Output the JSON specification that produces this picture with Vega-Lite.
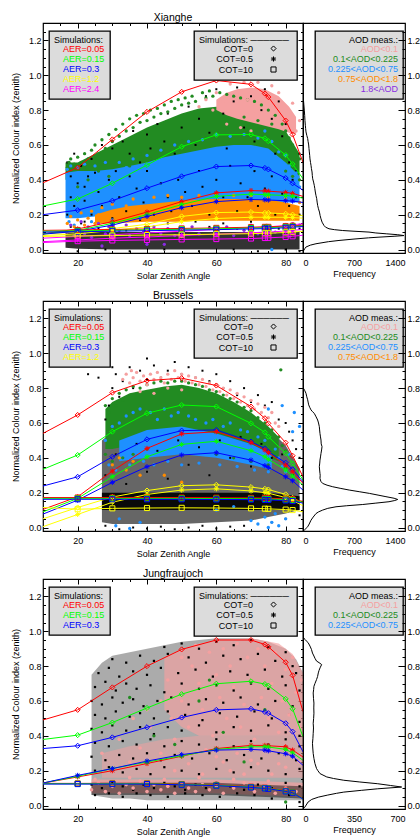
{
"$schema":"https://vega.github.io/schema/vega-lite/v6.json",
"background":"white",
"padding":{"left":10,"top":12,"right":0,"bottom":0},
"config":{
 "font":"Liberation Sans",
 "view":{"stroke":"black","strokeWidth":1.2},
 "axis":{"labelFont":"Liberation Sans","labelFontSize":9,"labelColor":"black","titleFont":"Liberation Sans","titleFontSize":9,"titleFontWeight":"normal","titleColor":"black","tickColor":"black","tickWidth":1,"domain":false,"grid":false,"labelOverlap":false,"zindex":1},
 "title":{"font":"Liberation Sans","fontSize":10.5,"fontWeight":"normal","color":"black","offset":-1,"anchor":"middle"},
 "legend":{"labelFont":"Liberation Sans","labelFontSize":9,"titleFont":"Liberation Sans","titleFontSize":9,"titleFontWeight":"normal","titleColor":"black","labelColor":"black","fillColor":"#dcdcdc","strokeColor":"black","strokeWidth":1.3,"cornerRadius":0,"padding":5,"rowPadding":-0.5,"titlePadding":-1,"labelLimit":200,"titleLimit":300}
},
"datasets":{
"s1":[
{"a":0.05,"c":0,"x":10,"y":0.383},{"a":0.05,"c":0,"x":20,"y":0.47},{"a":0.05,"c":0,"x":30,"y":0.632},{"a":0.05,"c":0,"x":40,"y":0.79},{"a":0.05,"c":0,"x":50,"y":0.905},{"a":0.05,"c":0,"x":60,"y":0.97},{"a":0.05,"c":0,"x":70,"y":0.948},{"a":0.05,"c":0,"x":74,"y":0.895},{"a":0.05,"c":0,"x":75,"y":0.875},{"a":0.05,"c":0,"x":80,"y":0.74},{"a":0.05,"c":0,"x":82,"y":0.66},{"a":0.05,"c":0,"x":85,"y":0.5},
{"a":0.15,"c":0,"x":10,"y":0.25},{"a":0.15,"c":0,"x":20,"y":0.29},{"a":0.15,"c":0,"x":30,"y":0.38},{"a":0.15,"c":0,"x":40,"y":0.485},{"a":0.15,"c":0,"x":50,"y":0.59},{"a":0.15,"c":0,"x":60,"y":0.658},{"a":0.15,"c":0,"x":70,"y":0.66},{"a":0.15,"c":0,"x":74,"y":0.638},{"a":0.15,"c":0,"x":75,"y":0.622},{"a":0.15,"c":0,"x":80,"y":0.542},{"a":0.15,"c":0,"x":82,"y":0.49},{"a":0.15,"c":0,"x":85,"y":0.406},
{"a":0.3,"c":0,"x":10,"y":0.2},{"a":0.3,"c":0,"x":20,"y":0.226},{"a":0.3,"c":0,"x":30,"y":0.28},{"a":0.3,"c":0,"x":40,"y":0.352},{"a":0.3,"c":0,"x":50,"y":0.42},{"a":0.3,"c":0,"x":60,"y":0.476},{"a":0.3,"c":0,"x":70,"y":0.482},{"a":0.3,"c":0,"x":74,"y":0.468},{"a":0.3,"c":0,"x":75,"y":0.46},{"a":0.3,"c":0,"x":80,"y":0.41},{"a":0.3,"c":0,"x":82,"y":0.38},{"a":0.3,"c":0,"x":85,"y":0.34},
{"a":1.2,"c":0,"x":10,"y":0.09},{"a":1.2,"c":0,"x":20,"y":0.1},{"a":1.2,"c":0,"x":30,"y":0.12},{"a":1.2,"c":0,"x":40,"y":0.145},{"a":1.2,"c":0,"x":50,"y":0.19},{"a":1.2,"c":0,"x":60,"y":0.212},{"a":1.2,"c":0,"x":70,"y":0.215},{"a":1.2,"c":0,"x":74,"y":0.21},{"a":1.2,"c":0,"x":75,"y":0.21},{"a":1.2,"c":0,"x":80,"y":0.205},{"a":1.2,"c":0,"x":82,"y":0.2},{"a":1.2,"c":0,"x":85,"y":0.195},
{"a":2.4,"c":0,"x":10,"y":0.065},{"a":2.4,"c":0,"x":20,"y":0.075},{"a":2.4,"c":0,"x":30,"y":0.085},{"a":2.4,"c":0,"x":40,"y":0.095},{"a":2.4,"c":0,"x":50,"y":0.105},{"a":2.4,"c":0,"x":60,"y":0.115},{"a":2.4,"c":0,"x":70,"y":0.125},{"a":2.4,"c":0,"x":74,"y":0.13},{"a":2.4,"c":0,"x":75,"y":0.13},{"a":2.4,"c":0,"x":80,"y":0.138},{"a":2.4,"c":0,"x":82,"y":0.142},{"a":2.4,"c":0,"x":85,"y":0.148},
{"a":0.05,"c":0.5,"x":10,"y":0.09},{"a":0.05,"c":0.5,"x":20,"y":0.118},{"a":0.05,"c":0.5,"x":30,"y":0.16},{"a":0.05,"c":0.5,"x":40,"y":0.215},{"a":0.05,"c":0.5,"x":50,"y":0.275},{"a":0.05,"c":0.5,"x":60,"y":0.325},{"a":0.05,"c":0.5,"x":70,"y":0.338},{"a":0.05,"c":0.5,"x":74,"y":0.336},{"a":0.05,"c":0.5,"x":75,"y":0.335},{"a":0.05,"c":0.5,"x":80,"y":0.328},{"a":0.05,"c":0.5,"x":82,"y":0.322},{"a":0.05,"c":0.5,"x":85,"y":0.305},
{"a":0.15,"c":0.5,"x":10,"y":0.09},{"a":0.15,"c":0.5,"x":20,"y":0.11},{"a":0.15,"c":0.5,"x":30,"y":0.15},{"a":0.15,"c":0.5,"x":40,"y":0.2},{"a":0.15,"c":0.5,"x":50,"y":0.258},{"a":0.15,"c":0.5,"x":60,"y":0.305},{"a":0.15,"c":0.5,"x":70,"y":0.318},{"a":0.15,"c":0.5,"x":74,"y":0.315},{"a":0.15,"c":0.5,"x":75,"y":0.314},{"a":0.15,"c":0.5,"x":80,"y":0.31},{"a":0.15,"c":0.5,"x":82,"y":0.306},{"a":0.15,"c":0.5,"x":85,"y":0.295},
{"a":0.3,"c":0.5,"x":10,"y":0.088},{"a":0.3,"c":0.5,"x":20,"y":0.105},{"a":0.3,"c":0.5,"x":30,"y":0.14},{"a":0.3,"c":0.5,"x":40,"y":0.19},{"a":0.3,"c":0.5,"x":50,"y":0.24},{"a":0.3,"c":0.5,"x":60,"y":0.275},{"a":0.3,"c":0.5,"x":70,"y":0.287},{"a":0.3,"c":0.5,"x":74,"y":0.285},{"a":0.3,"c":0.5,"x":75,"y":0.284},{"a":0.3,"c":0.5,"x":80,"y":0.28},{"a":0.3,"c":0.5,"x":82,"y":0.278},{"a":0.3,"c":0.5,"x":85,"y":0.27},
{"a":1.2,"c":0.5,"x":10,"y":0.08},{"a":1.2,"c":0.5,"x":20,"y":0.09},{"a":1.2,"c":0.5,"x":30,"y":0.11},{"a":1.2,"c":0.5,"x":40,"y":0.13},{"a":1.2,"c":0.5,"x":50,"y":0.16},{"a":1.2,"c":0.5,"x":60,"y":0.178},{"a":1.2,"c":0.5,"x":70,"y":0.185},{"a":1.2,"c":0.5,"x":74,"y":0.185},{"a":1.2,"c":0.5,"x":75,"y":0.185},{"a":1.2,"c":0.5,"x":80,"y":0.185},{"a":1.2,"c":0.5,"x":82,"y":0.183},{"a":1.2,"c":0.5,"x":85,"y":0.18},
{"a":2.4,"c":0.5,"x":10,"y":0.045},{"a":2.4,"c":0.5,"x":20,"y":0.055},{"a":2.4,"c":0.5,"x":30,"y":0.065},{"a":2.4,"c":0.5,"x":40,"y":0.072},{"a":2.4,"c":0.5,"x":50,"y":0.08},{"a":2.4,"c":0.5,"x":60,"y":0.088},{"a":2.4,"c":0.5,"x":70,"y":0.096},{"a":2.4,"c":0.5,"x":74,"y":0.1},{"a":2.4,"c":0.5,"x":75,"y":0.1},{"a":2.4,"c":0.5,"x":80,"y":0.106},{"a":2.4,"c":0.5,"x":82,"y":0.11},{"a":2.4,"c":0.5,"x":85,"y":0.115},
{"a":0.05,"c":10,"x":10,"y":0.11},{"a":0.05,"c":10,"x":20,"y":0.112},{"a":0.05,"c":10,"x":30,"y":0.115},{"a":0.05,"c":10,"x":40,"y":0.118},{"a":0.05,"c":10,"x":50,"y":0.121},{"a":0.05,"c":10,"x":60,"y":0.124},{"a":0.05,"c":10,"x":70,"y":0.128},{"a":0.05,"c":10,"x":74,"y":0.13},{"a":0.05,"c":10,"x":75,"y":0.13},{"a":0.05,"c":10,"x":80,"y":0.134},{"a":0.05,"c":10,"x":82,"y":0.136},{"a":0.05,"c":10,"x":85,"y":0.14},
{"a":0.15,"c":10,"x":10,"y":0.105},{"a":0.15,"c":10,"x":20,"y":0.107},{"a":0.15,"c":10,"x":30,"y":0.11},{"a":0.15,"c":10,"x":40,"y":0.113},{"a":0.15,"c":10,"x":50,"y":0.116},{"a":0.15,"c":10,"x":60,"y":0.119},{"a":0.15,"c":10,"x":70,"y":0.123},{"a":0.15,"c":10,"x":74,"y":0.125},{"a":0.15,"c":10,"x":75,"y":0.125},{"a":0.15,"c":10,"x":80,"y":0.13},{"a":0.15,"c":10,"x":82,"y":0.132},{"a":0.15,"c":10,"x":85,"y":0.136},
{"a":0.3,"c":10,"x":10,"y":0.1},{"a":0.3,"c":10,"x":20,"y":0.102},{"a":0.3,"c":10,"x":30,"y":0.105},{"a":0.3,"c":10,"x":40,"y":0.108},{"a":0.3,"c":10,"x":50,"y":0.111},{"a":0.3,"c":10,"x":60,"y":0.114},{"a":0.3,"c":10,"x":70,"y":0.118},{"a":0.3,"c":10,"x":74,"y":0.12},{"a":0.3,"c":10,"x":75,"y":0.12},{"a":0.3,"c":10,"x":80,"y":0.125},{"a":0.3,"c":10,"x":82,"y":0.128},{"a":0.3,"c":10,"x":85,"y":0.132},
{"a":1.2,"c":10,"x":10,"y":0.075},{"a":1.2,"c":10,"x":20,"y":0.078},{"a":1.2,"c":10,"x":30,"y":0.08},{"a":1.2,"c":10,"x":40,"y":0.083},{"a":1.2,"c":10,"x":50,"y":0.085},{"a":1.2,"c":10,"x":60,"y":0.088},{"a":1.2,"c":10,"x":70,"y":0.091},{"a":1.2,"c":10,"x":74,"y":0.093},{"a":1.2,"c":10,"x":75,"y":0.093},{"a":1.2,"c":10,"x":80,"y":0.098},{"a":1.2,"c":10,"x":82,"y":0.1},{"a":1.2,"c":10,"x":85,"y":0.105},
{"a":2.4,"c":10,"x":10,"y":0.04},{"a":2.4,"c":10,"x":20,"y":0.048},{"a":2.4,"c":10,"x":30,"y":0.052},{"a":2.4,"c":10,"x":40,"y":0.055},{"a":2.4,"c":10,"x":50,"y":0.058},{"a":2.4,"c":10,"x":60,"y":0.06},{"a":2.4,"c":10,"x":70,"y":0.063},{"a":2.4,"c":10,"x":74,"y":0.066},{"a":2.4,"c":10,"x":75,"y":0.067},{"a":2.4,"c":10,"x":80,"y":0.072},{"a":2.4,"c":10,"x":82,"y":0.076},{"a":2.4,"c":10,"x":85,"y":0.082}
],
"s2":[
{"a":0.05,"c":0,"x":10,"y":0.54},{"a":0.05,"c":0,"x":20,"y":0.646},{"a":0.05,"c":0,"x":30,"y":0.774},{"a":0.05,"c":0,"x":40,"y":0.843},{"a":0.05,"c":0,"x":50,"y":0.857},{"a":0.05,"c":0,"x":60,"y":0.815},{"a":0.05,"c":0,"x":70,"y":0.694},{"a":0.05,"c":0,"x":74,"y":0.627},{"a":0.05,"c":0,"x":75,"y":0.598},{"a":0.05,"c":0,"x":80,"y":0.487},{"a":0.05,"c":0,"x":82,"y":0.412},{"a":0.05,"c":0,"x":85,"y":0.291},
{"a":0.15,"c":0,"x":10,"y":0.334},{"a":0.15,"c":0,"x":20,"y":0.416},{"a":0.15,"c":0,"x":30,"y":0.55},{"a":0.15,"c":0,"x":40,"y":0.656},{"a":0.15,"c":0,"x":50,"y":0.703},{"a":0.15,"c":0,"x":60,"y":0.694},{"a":0.15,"c":0,"x":70,"y":0.598},{"a":0.15,"c":0,"x":74,"y":0.546},{"a":0.15,"c":0,"x":75,"y":0.521},{"a":0.15,"c":0,"x":80,"y":0.426},{"a":0.15,"c":0,"x":82,"y":0.368},{"a":0.15,"c":0,"x":85,"y":0.272},
{"a":0.3,"c":0,"x":10,"y":0.238},{"a":0.3,"c":0,"x":20,"y":0.291},{"a":0.3,"c":0,"x":30,"y":0.406},{"a":0.3,"c":0,"x":40,"y":0.506},{"a":0.3,"c":0,"x":50,"y":0.556},{"a":0.3,"c":0,"x":60,"y":0.56},{"a":0.3,"c":0,"x":70,"y":0.493},{"a":0.3,"c":0,"x":74,"y":0.454},{"a":0.3,"c":0,"x":75,"y":0.435},{"a":0.3,"c":0,"x":80,"y":0.372},{"a":0.3,"c":0,"x":82,"y":0.334},{"a":0.3,"c":0,"x":85,"y":0.262},
{"a":1.2,"c":0,"x":10,"y":0.05},{"a":1.2,"c":0,"x":20,"y":0.115},{"a":1.2,"c":0,"x":30,"y":0.175},{"a":1.2,"c":0,"x":40,"y":0.212},{"a":1.2,"c":0,"x":50,"y":0.24},{"a":1.2,"c":0,"x":60,"y":0.245},{"a":1.2,"c":0,"x":70,"y":0.232},{"a":1.2,"c":0,"x":74,"y":0.222},{"a":1.2,"c":0,"x":75,"y":0.218},{"a":1.2,"c":0,"x":80,"y":0.19},{"a":1.2,"c":0,"x":82,"y":0.17},{"a":1.2,"c":0,"x":85,"y":0.14},
{"a":0.05,"c":0.5,"x":10,"y":0.104},{"a":0.05,"c":0.5,"x":20,"y":0.176},{"a":0.05,"c":0.5,"x":30,"y":0.324},{"a":0.05,"c":0.5,"x":40,"y":0.454},{"a":0.05,"c":0.5,"x":50,"y":0.537},{"a":0.05,"c":0.5,"x":60,"y":0.55},{"a":0.05,"c":0.5,"x":70,"y":0.487},{"a":0.05,"c":0.5,"x":74,"y":0.445},{"a":0.05,"c":0.5,"x":75,"y":0.429},{"a":0.05,"c":0.5,"x":80,"y":0.358},{"a":0.05,"c":0.5,"x":82,"y":0.32},{"a":0.05,"c":0.5,"x":85,"y":0.253},
{"a":0.15,"c":0.5,"x":10,"y":0.09},{"a":0.15,"c":0.5,"x":20,"y":0.167},{"a":0.15,"c":0.5,"x":30,"y":0.291},{"a":0.15,"c":0.5,"x":40,"y":0.406},{"a":0.15,"c":0.5,"x":50,"y":0.477},{"a":0.15,"c":0.5,"x":60,"y":0.495},{"a":0.15,"c":0.5,"x":70,"y":0.441},{"a":0.15,"c":0.5,"x":74,"y":0.406},{"a":0.15,"c":0.5,"x":75,"y":0.391},{"a":0.15,"c":0.5,"x":80,"y":0.33},{"a":0.15,"c":0.5,"x":82,"y":0.295},{"a":0.15,"c":0.5,"x":85,"y":0.243},
{"a":0.3,"c":0.5,"x":10,"y":0.077},{"a":0.3,"c":0.5,"x":20,"y":0.157},{"a":0.3,"c":0.5,"x":30,"y":0.259},{"a":0.3,"c":0.5,"x":40,"y":0.349},{"a":0.3,"c":0.5,"x":50,"y":0.416},{"a":0.3,"c":0.5,"x":60,"y":0.429},{"a":0.3,"c":0.5,"x":70,"y":0.387},{"a":0.3,"c":0.5,"x":74,"y":0.355},{"a":0.3,"c":0.5,"x":75,"y":0.345},{"a":0.3,"c":0.5,"x":80,"y":0.291},{"a":0.3,"c":0.5,"x":82,"y":0.268},{"a":0.3,"c":0.5,"x":85,"y":0.215},
{"a":1.2,"c":0.5,"x":10,"y":0.005},{"a":1.2,"c":0.5,"x":20,"y":0.075},{"a":1.2,"c":0.5,"x":30,"y":0.145},{"a":1.2,"c":0.5,"x":40,"y":0.19},{"a":1.2,"c":0.5,"x":50,"y":0.215},{"a":1.2,"c":0.5,"x":60,"y":0.222},{"a":1.2,"c":0.5,"x":70,"y":0.21},{"a":1.2,"c":0.5,"x":74,"y":0.2},{"a":1.2,"c":0.5,"x":75,"y":0.197},{"a":1.2,"c":0.5,"x":80,"y":0.172},{"a":1.2,"c":0.5,"x":82,"y":0.155},{"a":1.2,"c":0.5,"x":85,"y":0.125},
{"a":0.05,"c":10,"x":10,"y":0.172},{"a":0.05,"c":10,"x":20,"y":0.172},{"a":0.05,"c":10,"x":30,"y":0.172},{"a":0.05,"c":10,"x":40,"y":0.172},{"a":0.05,"c":10,"x":50,"y":0.172},{"a":0.05,"c":10,"x":60,"y":0.171},{"a":0.05,"c":10,"x":70,"y":0.17},{"a":0.05,"c":10,"x":74,"y":0.169},{"a":0.05,"c":10,"x":75,"y":0.168},{"a":0.05,"c":10,"x":80,"y":0.165},{"a":0.05,"c":10,"x":82,"y":0.162},{"a":0.05,"c":10,"x":85,"y":0.15},
{"a":0.15,"c":10,"x":10,"y":0.167},{"a":0.15,"c":10,"x":20,"y":0.167},{"a":0.15,"c":10,"x":30,"y":0.167},{"a":0.15,"c":10,"x":40,"y":0.167},{"a":0.15,"c":10,"x":50,"y":0.167},{"a":0.15,"c":10,"x":60,"y":0.166},{"a":0.15,"c":10,"x":70,"y":0.165},{"a":0.15,"c":10,"x":74,"y":0.164},{"a":0.15,"c":10,"x":75,"y":0.163},{"a":0.15,"c":10,"x":80,"y":0.16},{"a":0.15,"c":10,"x":82,"y":0.157},{"a":0.15,"c":10,"x":85,"y":0.145},
{"a":0.3,"c":10,"x":10,"y":0.162},{"a":0.3,"c":10,"x":20,"y":0.162},{"a":0.3,"c":10,"x":30,"y":0.162},{"a":0.3,"c":10,"x":40,"y":0.162},{"a":0.3,"c":10,"x":50,"y":0.162},{"a":0.3,"c":10,"x":60,"y":0.161},{"a":0.3,"c":10,"x":70,"y":0.16},{"a":0.3,"c":10,"x":74,"y":0.159},{"a":0.3,"c":10,"x":75,"y":0.158},{"a":0.3,"c":10,"x":80,"y":0.155},{"a":0.3,"c":10,"x":82,"y":0.152},{"a":0.3,"c":10,"x":85,"y":0.14},
{"a":1.2,"c":10,"x":10,"y":0.115},{"a":1.2,"c":10,"x":20,"y":0.105},{"a":1.2,"c":10,"x":30,"y":0.11},{"a":1.2,"c":10,"x":40,"y":0.112},{"a":1.2,"c":10,"x":50,"y":0.113},{"a":1.2,"c":10,"x":60,"y":0.112},{"a":1.2,"c":10,"x":70,"y":0.11},{"a":1.2,"c":10,"x":74,"y":0.108},{"a":1.2,"c":10,"x":75,"y":0.107},{"a":1.2,"c":10,"x":80,"y":0.103},{"a":1.2,"c":10,"x":82,"y":0.1},{"a":1.2,"c":10,"x":85,"y":0.09}
],
"s3":[
{"a":0.05,"c":0,"x":10,"y":0.491},{"a":0.05,"c":0,"x":20,"y":0.549},{"a":0.05,"c":0,"x":30,"y":0.678},{"a":0.05,"c":0,"x":40,"y":0.8},{"a":0.05,"c":0,"x":50,"y":0.896},{"a":0.05,"c":0,"x":60,"y":0.95},{"a":0.05,"c":0,"x":70,"y":0.95},{"a":0.05,"c":0,"x":74,"y":0.924},{"a":0.05,"c":0,"x":75,"y":0.911},{"a":0.05,"c":0,"x":80,"y":0.822},{"a":0.05,"c":0,"x":82,"y":0.747},{"a":0.05,"c":0,"x":85,"y":0.539},
{"a":0.15,"c":0,"x":10,"y":0.379},{"a":0.15,"c":0,"x":20,"y":0.404},{"a":0.15,"c":0,"x":30,"y":0.476},{"a":0.15,"c":0,"x":40,"y":0.56},{"a":0.15,"c":0,"x":50,"y":0.639},{"a":0.15,"c":0,"x":60,"y":0.699},{"a":0.15,"c":0,"x":70,"y":0.713},{"a":0.15,"c":0,"x":74,"y":0.697},{"a":0.15,"c":0,"x":75,"y":0.688},{"a":0.15,"c":0,"x":80,"y":0.612},{"a":0.15,"c":0,"x":82,"y":0.555},{"a":0.15,"c":0,"x":85,"y":0.395},
{"a":0.3,"c":0,"x":10,"y":0.327},{"a":0.3,"c":0,"x":20,"y":0.343},{"a":0.3,"c":0,"x":30,"y":0.391},{"a":0.3,"c":0,"x":40,"y":0.449},{"a":0.3,"c":0,"x":50,"y":0.505},{"a":0.3,"c":0,"x":60,"y":0.549},{"a":0.3,"c":0,"x":70,"y":0.555},{"a":0.3,"c":0,"x":74,"y":0.537},{"a":0.3,"c":0,"x":75,"y":0.53},{"a":0.3,"c":0,"x":80,"y":0.472},{"a":0.3,"c":0,"x":82,"y":0.424},{"a":0.3,"c":0,"x":85,"y":0.308},
{"a":0.05,"c":0.5,"x":10,"y":0.129},{"a":0.05,"c":0.5,"x":20,"y":0.164},{"a":0.05,"c":0.5,"x":30,"y":0.2},{"a":0.05,"c":0.5,"x":40,"y":0.241},{"a":0.05,"c":0.5,"x":50,"y":0.283},{"a":0.05,"c":0.5,"x":60,"y":0.327},{"a":0.05,"c":0.5,"x":70,"y":0.345},{"a":0.05,"c":0.5,"x":74,"y":0.345},{"a":0.05,"c":0.5,"x":75,"y":0.343},{"a":0.05,"c":0.5,"x":80,"y":0.337},{"a":0.05,"c":0.5,"x":82,"y":0.318},{"a":0.05,"c":0.5,"x":85,"y":0.279},
{"a":0.15,"c":0.5,"x":10,"y":0.129},{"a":0.15,"c":0.5,"x":20,"y":0.168},{"a":0.15,"c":0.5,"x":30,"y":0.212},{"a":0.15,"c":0.5,"x":40,"y":0.25},{"a":0.15,"c":0.5,"x":50,"y":0.285},{"a":0.15,"c":0.5,"x":60,"y":0.322},{"a":0.15,"c":0.5,"x":70,"y":0.337},{"a":0.15,"c":0.5,"x":74,"y":0.337},{"a":0.15,"c":0.5,"x":75,"y":0.336},{"a":0.15,"c":0.5,"x":80,"y":0.322},{"a":0.15,"c":0.5,"x":82,"y":0.302},{"a":0.15,"c":0.5,"x":85,"y":0.26},
{"a":0.3,"c":0.5,"x":10,"y":0.129},{"a":0.3,"c":0.5,"x":20,"y":0.173},{"a":0.3,"c":0.5,"x":30,"y":0.212},{"a":0.3,"c":0.5,"x":40,"y":0.255},{"a":0.3,"c":0.5,"x":50,"y":0.292},{"a":0.3,"c":0.5,"x":60,"y":0.318},{"a":0.3,"c":0.5,"x":70,"y":0.322},{"a":0.3,"c":0.5,"x":74,"y":0.318},{"a":0.3,"c":0.5,"x":75,"y":0.314},{"a":0.3,"c":0.5,"x":80,"y":0.297},{"a":0.3,"c":0.5,"x":82,"y":0.283},{"a":0.3,"c":0.5,"x":85,"y":0.231},
{"a":0.05,"c":10,"x":10,"y":0.127},{"a":0.05,"c":10,"x":20,"y":0.127},{"a":0.05,"c":10,"x":30,"y":0.127},{"a":0.05,"c":10,"x":40,"y":0.127},{"a":0.05,"c":10,"x":50,"y":0.123},{"a":0.05,"c":10,"x":60,"y":0.118},{"a":0.05,"c":10,"x":70,"y":0.108},{"a":0.05,"c":10,"x":74,"y":0.102},{"a":0.05,"c":10,"x":75,"y":0.1},{"a":0.05,"c":10,"x":80,"y":0.085},{"a":0.05,"c":10,"x":82,"y":0.077},{"a":0.05,"c":10,"x":85,"y":0.041},
{"a":0.15,"c":10,"x":10,"y":0.125},{"a":0.15,"c":10,"x":20,"y":0.125},{"a":0.15,"c":10,"x":30,"y":0.125},{"a":0.15,"c":10,"x":40,"y":0.125},{"a":0.15,"c":10,"x":50,"y":0.121},{"a":0.15,"c":10,"x":60,"y":0.116},{"a":0.15,"c":10,"x":70,"y":0.106},{"a":0.15,"c":10,"x":74,"y":0.1},{"a":0.15,"c":10,"x":75,"y":0.098},{"a":0.15,"c":10,"x":80,"y":0.083},{"a":0.15,"c":10,"x":82,"y":0.075},{"a":0.15,"c":10,"x":85,"y":0.039},
{"a":0.3,"c":10,"x":10,"y":0.123},{"a":0.3,"c":10,"x":20,"y":0.123},{"a":0.3,"c":10,"x":30,"y":0.123},{"a":0.3,"c":10,"x":40,"y":0.123},{"a":0.3,"c":10,"x":50,"y":0.119},{"a":0.3,"c":10,"x":60,"y":0.114},{"a":0.3,"c":10,"x":70,"y":0.104},{"a":0.3,"c":10,"x":74,"y":0.098},{"a":0.3,"c":10,"x":75,"y":0.096},{"a":0.3,"c":10,"x":80,"y":0.081},{"a":0.3,"c":10,"x":82,"y":0.073},{"a":0.3,"c":10,"x":85,"y":0.037}
],
"a1g":[{"x":16.5,"lo":0.4,"hi":0.5},{"x":20,"lo":0.4,"hi":0.5},{"x":25,"lo":0.42,"hi":0.55},{"x":30,"lo":0.43,"hi":0.6},{"x":35,"lo":0.45,"hi":0.65},{"x":40,"lo":0.47,"hi":0.7},{"x":45,"lo":0.5,"hi":0.74},{"x":50,"lo":0.52,"hi":0.78},{"x":55,"lo":0.54,"hi":0.81},{"x":60,"lo":0.55,"hi":0.82},{"x":65,"lo":0.56,"hi":0.83},{"x":70,"lo":0.56,"hi":0.82},{"x":75,"lo":0.54,"hi":0.78},{"x":80,"lo":0.47,"hi":0.68},{"x":84,"lo":0.4,"hi":0.55}],
"a1b":[{"x":16.5,"lo":0.18,"hi":0.44},{"x":20,"lo":0.18,"hi":0.45},{"x":25,"lo":0.19,"hi":0.45},{"x":30,"lo":0.2,"hi":0.46},{"x":35,"lo":0.21,"hi":0.48},{"x":40,"lo":0.22,"hi":0.5},{"x":45,"lo":0.23,"hi":0.53},{"x":50,"lo":0.24,"hi":0.55},{"x":55,"lo":0.25,"hi":0.57},{"x":60,"lo":0.26,"hi":0.59},{"x":65,"lo":0.27,"hi":0.6},{"x":70,"lo":0.27,"hi":0.6},{"x":75,"lo":0.27,"hi":0.58},{"x":80,"lo":0.27,"hi":0.5},{"x":84,"lo":0.27,"hi":0.42}],
"a1o":[{"x":25,"lo":0.15,"hi":0.2},{"x":30,"lo":0.15,"hi":0.23},{"x":35,"lo":0.155,"hi":0.25},{"x":40,"lo":0.16,"hi":0.26},{"x":45,"lo":0.16,"hi":0.27},{"x":50,"lo":0.16,"hi":0.28},{"x":55,"lo":0.165,"hi":0.285},{"x":60,"lo":0.165,"hi":0.29},{"x":65,"lo":0.165,"hi":0.29},{"x":70,"lo":0.165,"hi":0.29},{"x":75,"lo":0.165,"hi":0.285},{"x":80,"lo":0.165,"hi":0.27},{"x":84,"lo":0.165,"hi":0.25}],
"a1k":[{"x":16.5,"lo":0.01,"hi":0.1},{"x":20,"lo":0.005,"hi":0.1},{"x":30,"lo":0.0,"hi":0.1},{"x":40,"lo":0.0,"hi":0.1},{"x":50,"lo":0.0,"hi":0.1},{"x":60,"lo":0.0,"hi":0.1},{"x":70,"lo":0.0,"hi":0.1},{"x":80,"lo":0.0,"hi":0.1},{"x":84,"lo":0.0,"hi":0.1}],
"a1p":[{"x":60,"lo":0.8,"hi":0.86},{"x":63,"lo":0.77,"hi":0.9},{"x":66,"lo":0.75,"hi":0.92},{"x":70,"lo":0.73,"hi":0.93},{"x":74,"lo":0.71,"hi":0.92},{"x":78,"lo":0.69,"hi":0.88},{"x":81,"lo":0.67,"hi":0.82},{"x":83,"lo":0.66,"hi":0.76}],
"d1k":[{"x":17,"y":0.5},{"x":18,"y":0.42},{"x":19,"y":0.55},{"x":21,"y":0.48},{"x":22,"y":0.36},{"x":24,"y":0.52},{"x":25,"y":0.44},{"x":27,"y":0.6},{"x":28,"y":0.5},{"x":30,"y":0.58},{"x":31,"y":0.45},{"x":33,"y":0.62},{"x":35,"y":0.55},{"x":36,"y":0.68},{"x":38,"y":0.5},{"x":40,"y":0.66},{"x":41,"y":0.58},{"x":43,"y":0.72},{"x":45,"y":0.62},{"x":46,"y":0.78},{"x":48,"y":0.55},{"x":50,"y":0.7},{"x":52,"y":0.82},{"x":54,"y":0.6},{"x":55,"y":0.75},{"x":57,"y":0.88},{"x":58,"y":0.67},{"x":60,"y":0.92},{"x":62,"y":0.78},{"x":63,"y":0.58},{"x":65,"y":0.85},{"x":66,"y":0.93},{"x":68,"y":0.7},{"x":70,"y":0.88},{"x":71,"y":0.62},{"x":73,"y":0.8},{"x":74,"y":0.92},{"x":76,"y":0.75},{"x":77,"y":0.55},{"x":78,"y":0.85},{"x":79,"y":0.65},{"x":80,"y":0.72},{"x":81,"y":0.5},{"x":82,"y":0.6},{"x":83,"y":0.45},{"x":84,"y":0.55},
{"x":17,"y":0.2},{"x":18,"y":0.3},{"x":19,"y":0.25},{"x":20,"y":0.38},{"x":21,"y":0.15},{"x":22,"y":0.28},{"x":23,"y":0.42},{"x":24,"y":0.2},{"x":26,"y":0.33},{"x":27,"y":0.25},{"x":29,"y":0.4},{"x":30,"y":0.18},{"x":32,"y":0.3},{"x":34,"y":0.22},{"x":35,"y":0.42},{"x":37,"y":0.35},{"x":39,"y":0.27},{"x":40,"y":0.45},{"x":42,"y":0.2},{"x":44,"y":0.38},{"x":46,"y":0.3},{"x":47,"y":0.22},{"x":49,"y":0.4},{"x":51,"y":0.33},{"x":53,"y":0.25},{"x":55,"y":0.45},{"x":56,"y":0.36},{"x":58,"y":0.2},{"x":60,"y":0.4},{"x":62,"y":0.3},{"x":64,"y":0.48},{"x":66,"y":0.22},{"x":67,"y":0.38},{"x":69,"y":0.3},{"x":71,"y":0.45},{"x":72,"y":0.25},{"x":74,"y":0.35},{"x":76,"y":0.42},{"x":77,"y":0.2},{"x":79,"y":0.32},{"x":81,"y":0.25},{"x":82,"y":0.4},{"x":83,"y":0.3},{"x":84,"y":0.2},
{"x":18,"y":0.13},{"x":22,"y":0.16},{"x":26,"y":0.12},{"x":30,"y":0.14},{"x":34,"y":0.11},{"x":38,"y":0.17},{"x":42,"y":0.13},{"x":46,"y":0.15},{"x":50,"y":0.12},{"x":54,"y":0.16},{"x":58,"y":0.13},{"x":62,"y":0.15},{"x":66,"y":0.12},{"x":70,"y":0.16},{"x":74,"y":0.14},{"x":78,"y":0.12},{"x":82,"y":0.15},{"x":84,"y":0.12},
{"x":20,"y":-0.01},{"x":28,"y":0.0},{"x":35,"y":-0.01},{"x":45,"y":0.0},{"x":55,"y":-0.01},{"x":65,"y":0.0},{"x":72,"y":-0.01},{"x":80,"y":0.0},{"x":84,"y":-0.01}],
"d1g":[{"x":17,"y":0.47},{"x":17.5,"y":0.5},{"x":18,"y":0.52},{"x":19,"y":0.49},{"x":20,"y":0.53},{"x":21,"y":0.5},{"x":22,"y":0.55},{"x":23,"y":0.52},{"x":24,"y":0.57},{"x":25,"y":0.6},{"x":26,"y":0.55},{"x":27,"y":0.63},{"x":28,"y":0.58},{"x":29,"y":0.66},{"x":30,"y":0.62},{"x":31,"y":0.69},{"x":32,"y":0.65},{"x":33,"y":0.72},{"x":34,"y":0.68},{"x":35,"y":0.75},{"x":36,"y":0.7},{"x":37,"y":0.77},{"x":38,"y":0.73},{"x":39,"y":0.78},{"x":40,"y":0.74},{"x":41,"y":0.8},{"x":42,"y":0.76},{"x":43,"y":0.81},{"x":44,"y":0.78},{"x":45,"y":0.83},{"x":46,"y":0.79},{"x":47,"y":0.85},{"x":48,"y":0.81},{"x":49,"y":0.86},{"x":50,"y":0.83},{"x":51,"y":0.87},{"x":52,"y":0.84},{"x":53,"y":0.88},{"x":54,"y":0.85},{"x":56,"y":0.9},{"x":57,"y":0.87},{"x":58,"y":0.91},{"x":59,"y":0.88},{"x":61,"y":0.9},{"x":63,"y":0.89},{"x":65,"y":0.88},{"x":67,"y":0.87},{"x":69,"y":0.86},{"x":71,"y":0.85},{"x":73,"y":0.83},{"x":75,"y":0.8},{"x":77,"y":0.77},{"x":79,"y":0.72},{"x":80,"y":0.68},{"x":81,"y":0.64},{"x":82,"y":0.6},{"x":83,"y":0.56},{"x":84,"y":0.52},{"x":20,"y":0.36},{"x":23,"y":0.4},{"x":26,"y":0.45},{"x":29,"y":0.42},{"x":32,"y":0.5},{"x":35,"y":0.48},{"x":38,"y":0.55},{"x":41,"y":0.52},{"x":44,"y":0.58},{"x":47,"y":0.56},{"x":50,"y":0.62},{"x":80,"y":0.45},{"x":82,"y":0.42},{"x":84,"y":0.4},{"x":68,"y":0.76},{"x":72,"y":0.74},{"x":76,"y":0.72}],
"d1b":[{"x":17,"y":0.46},{"x":17.5,"y":0.16},{"x":18,"y":0.48},{"x":19,"y":0.14},{"x":20,"y":0.47},{"x":22,"y":0.49},{"x":24,"y":0.16},{"x":25,"y":0.48},{"x":28,"y":0.5},{"x":30,"y":0.17},{"x":32,"y":0.5},{"x":36,"y":0.52},{"x":38,"y":0.18},{"x":40,"y":0.54},{"x":44,"y":0.57},{"x":48,"y":0.6},{"x":52,"y":0.62},{"x":56,"y":0.63},{"x":60,"y":0.66},{"x":64,"y":0.65},{"x":68,"y":0.66},{"x":72,"y":0.64},{"x":74,"y":0.68},{"x":76,"y":0.62},{"x":78,"y":0.56},{"x":80,"y":0.54},{"x":81,"y":0.48},{"x":83,"y":0.44},{"x":84,"y":0.36},{"x":76,"y":0.0},{"x":21,"y":0.3},{"x":26,"y":0.42},{"x":34,"y":0.47}],
"d1o":[{"x":17,"y":0.15},{"x":18,"y":0.19},{"x":19,"y":0.13},{"x":20,"y":0.17},{"x":21,"y":0.21},{"x":22,"y":0.14},{"x":23,"y":0.18},{"x":24,"y":0.22},{"x":25,"y":0.15},{"x":26,"y":0.2},{"x":27,"y":0.24},{"x":28,"y":0.16},{"x":29,"y":0.21},{"x":30,"y":0.26},{"x":32,"y":0.18},{"x":34,"y":0.25},{"x":36,"y":0.29},{"x":38,"y":0.2},{"x":42,"y":0.3},{"x":46,"y":0.31},{"x":50,"y":0.3},{"x":55,"y":0.31},{"x":60,"y":0.32},{"x":65,"y":0.31},{"x":70,"y":0.31},{"x":75,"y":0.3},{"x":80,"y":0.29},{"x":84,"y":0.27}],
"d1u":[{"x":17,"y":0.1},{"x":18,"y":0.14},{"x":19,"y":0.08},{"x":20,"y":0.12},{"x":21,"y":0.16},{"x":22,"y":0.09},{"x":23,"y":0.13},{"x":24,"y":0.07},{"x":25,"y":0.11},{"x":26,"y":0.15},{"x":28,"y":0.09},{"x":29,"y":0.13},{"x":30,"y":0.07},{"x":32,"y":0.11},{"x":34,"y":0.14},{"x":35,"y":0.08},{"x":37,"y":0.12},{"x":39,"y":0.1},{"x":40,"y":0.03},{"x":42,"y":0.13},{"x":44,"y":0.09},{"x":46,"y":0.12},{"x":48,"y":0.08},{"x":50,"y":0.11},{"x":53,"y":0.13},{"x":55,"y":0.09},{"x":58,"y":0.12},{"x":60,"y":0.1},{"x":63,"y":0.13},{"x":65,"y":0.08},{"x":68,"y":0.11},{"x":70,"y":0.14},{"x":72,"y":0.09},{"x":75,"y":0.12},{"x":77,"y":0.1},{"x":80,"y":0.13},{"x":82,"y":0.11},{"x":84,"y":0.14},{"x":27,"y":0.02},{"x":45,"y":0.03}],
"d1p":[{"x":55,"y":0.82},{"x":57,"y":0.86},{"x":59,"y":0.8},{"x":60,"y":0.9},{"x":62,"y":0.85},{"x":64,"y":0.95},{"x":66,"y":0.8},{"x":68,"y":0.96},{"x":69,"y":0.86},{"x":71,"y":0.78},{"x":72,"y":0.96},{"x":73,"y":0.88},{"x":75,"y":0.74},{"x":76,"y":0.94},{"x":77,"y":0.82},{"x":78,"y":0.9},{"x":79,"y":0.7},{"x":80,"y":0.8},{"x":81,"y":0.72},{"x":82,"y":0.84},{"x":83,"y":0.68},{"x":84,"y":0.74},{"x":63,"y":0.72},{"x":67,"y":0.7},{"x":70,"y":0.68}],
"a2k":[{"x":27,"lo":0.03,"hi":0.5},{"x":30,"lo":0.02,"hi":0.55},{"x":35,"lo":0.02,"hi":0.58},{"x":40,"lo":0.02,"hi":0.6},{"x":50,"lo":0.02,"hi":0.62},{"x":60,"lo":0.03,"hi":0.62},{"x":70,"lo":0.04,"hi":0.6},{"x":75,"lo":0.06,"hi":0.57},{"x":80,"lo":0.08,"hi":0.47},{"x":84,"lo":0.1,"hi":0.34}],
"a2kb":[{"x":27,"lo":0.1,"hi":0.2},{"x":40,"lo":0.1,"hi":0.2},{"x":60,"lo":0.1,"hi":0.2},{"x":75,"lo":0.1,"hi":0.2},{"x":84,"lo":0.1,"hi":0.18}],
"a2g":[{"x":28,"lo":0.45,"hi":0.68},{"x":30,"lo":0.45,"hi":0.72},{"x":35,"lo":0.47,"hi":0.77},{"x":40,"lo":0.48,"hi":0.79},{"x":45,"lo":0.48,"hi":0.81},{"x":50,"lo":0.48,"hi":0.82},{"x":55,"lo":0.48,"hi":0.8},{"x":60,"lo":0.47,"hi":0.77},{"x":65,"lo":0.45,"hi":0.72},{"x":70,"lo":0.43,"hi":0.66},{"x":75,"lo":0.4,"hi":0.58},{"x":78,"lo":0.38,"hi":0.52}],
"a2b":[{"x":32,"lo":0.38,"hi":0.5},{"x":40,"lo":0.4,"hi":0.56},{"x":50,"lo":0.42,"hi":0.58},{"x":60,"lo":0.4,"hi":0.54},{"x":70,"lo":0.36,"hi":0.48},{"x":76,"lo":0.33,"hi":0.42}],
"d2k":[{"x":28,"y":0.62},{"x":29,"y":0.7},{"x":30,"y":0.8},{"x":31,"y":0.88},{"x":32,"y":0.75},{"x":33,"y":0.84},{"x":35,"y":0.92},{"x":36,"y":0.8},{"x":38,"y":0.9},{"x":40,"y":0.85},{"x":42,"y":0.93},{"x":44,"y":0.86},{"x":46,"y":0.9},{"x":48,"y":0.95},{"x":50,"y":0.88},{"x":52,"y":0.92},{"x":54,"y":0.86},{"x":56,"y":0.9},{"x":58,"y":0.84},{"x":60,"y":0.88},{"x":62,"y":0.8},{"x":64,"y":0.84},{"x":66,"y":0.76},{"x":68,"y":0.8},{"x":70,"y":0.72},{"x":72,"y":0.76},{"x":74,"y":0.7},{"x":76,"y":0.72},{"x":78,"y":0.62},{"x":80,"y":0.6},{"x":81,"y":0.55},{"x":82,"y":0.5},{"x":83,"y":0.45},{"x":84,"y":0.4},{"x":85,"y":0.35},{"x":23,"y":0.88},{"x":26,"y":0.86},{"x":40,"y":0.97},{"x":30,"y":0.92},
{"x":28,"y":0.01},{"x":32,"y":-0.01},{"x":36,"y":0.0},{"x":40,"y":-0.005},{"x":44,"y":0.005},{"x":48,"y":-0.01},{"x":52,"y":0.0},{"x":56,"y":0.01},{"x":60,"y":-0.005},{"x":64,"y":0.005},{"x":68,"y":0.01},{"x":72,"y":0.02},{"x":76,"y":0.03},{"x":80,"y":0.05},{"x":84,"y":0.07},
{"x":28,"y":0.3},{"x":31,"y":0.42},{"x":34,"y":0.25},{"x":37,"y":0.48},{"x":40,"y":0.32},{"x":43,"y":0.44},{"x":46,"y":0.28},{"x":49,"y":0.5},{"x":52,"y":0.36},{"x":55,"y":0.46},{"x":58,"y":0.3},{"x":61,"y":0.5},{"x":64,"y":0.4},{"x":67,"y":0.52},{"x":70,"y":0.35},{"x":73,"y":0.48},{"x":76,"y":0.4},{"x":79,"y":0.42},{"x":82,"y":0.3}],
"d2g":[{"x":28,"y":0.7},{"x":29,"y":0.66},{"x":30,"y":0.74},{"x":31,"y":0.7},{"x":32,"y":0.77},{"x":33,"y":0.73},{"x":34,"y":0.79},{"x":36,"y":0.81},{"x":38,"y":0.8},{"x":40,"y":0.82},{"x":42,"y":0.83},{"x":44,"y":0.84},{"x":46,"y":0.83},{"x":48,"y":0.84},{"x":50,"y":0.84},{"x":52,"y":0.83},{"x":54,"y":0.82},{"x":56,"y":0.81},{"x":58,"y":0.79},{"x":60,"y":0.78},{"x":62,"y":0.76},{"x":64,"y":0.74},{"x":66,"y":0.72},{"x":68,"y":0.69},{"x":70,"y":0.67},{"x":72,"y":0.63},{"x":74,"y":0.6},{"x":76,"y":0.56},{"x":78,"y":0.52},{"x":79,"y":0.47},{"x":80,"y":0.44},{"x":28,"y":0.42},{"x":30,"y":0.38},{"x":33,"y":0.4},{"x":36,"y":0.42},{"x":60,"y":0.42},{"x":65,"y":0.4},{"x":70,"y":0.38},{"x":75,"y":0.36},{"x":80,"y":0.34},{"x":78.6,"y":0.905},{"x":40,"y":0.45}],
"d2b":[{"x":28,"y":0.5},{"x":29,"y":0.36},{"x":30,"y":0.58},{"x":31,"y":0.33},{"x":32,"y":0.6},{"x":33,"y":0.45},{"x":34,"y":0.64},{"x":35,"y":0.36},{"x":36,"y":0.66},{"x":37,"y":0.52},{"x":38,"y":0.68},{"x":39,"y":0.38},{"x":41,"y":0.66},{"x":42,"y":0.36},{"x":43,"y":0.62},{"x":45,"y":0.68},{"x":46,"y":0.38},{"x":47,"y":0.64},{"x":49,"y":0.66},{"x":50,"y":0.36},{"x":52,"y":0.64},{"x":54,"y":0.62},{"x":55,"y":0.37},{"x":57,"y":0.6},{"x":59,"y":0.62},{"x":61,"y":0.36},{"x":62,"y":0.58},{"x":64,"y":0.6},{"x":66,"y":0.35},{"x":67,"y":0.56},{"x":69,"y":0.55},{"x":71,"y":0.33},{"x":72,"y":0.52},{"x":74,"y":0.5},{"x":75,"y":0.32},{"x":77,"y":0.45},{"x":78,"y":0.4},{"x":79,"y":0.35},{"x":80,"y":0.32},{"x":81,"y":0.42},{"x":82,"y":0.55},{"x":82.5,"y":0.66},{"x":84,"y":0.58},{"x":75,"y":0.68},{"x":79,"y":0.7},{"x":70,"y":0.04},{"x":72,"y":0.02},{"x":74,"y":0.06},{"x":75,"y":0.0},{"x":76,"y":0.03},{"x":77,"y":0.08},{"x":78,"y":0.01},{"x":80,"y":0.05},{"x":31,"y":0.01},{"x":35,"y":-0.005},{"x":38,"y":0.03},{"x":32,"y":0.05},{"x":60,"y":0.1},{"x":65,"y":0.12}],
"d2o":[{"x":30,"y":0.36},{"x":32,"y":0.4},{"x":34,"y":0.33},{"x":36,"y":0.38},{"x":38,"y":0.3},{"x":45,"y":0.3},{"x":50,"y":0.26}],
"d2p":[{"x":33,"y":0.85},{"x":34,"y":0.88},{"x":35,"y":0.83},{"x":35.5,"y":0.9},{"x":36,"y":0.86},{"x":37,"y":0.89},{"x":38,"y":0.84},{"x":39,"y":0.87},{"x":40,"y":0.82},{"x":41,"y":0.88},{"x":42,"y":0.85},{"x":43,"y":0.89},{"x":44,"y":0.86},{"x":45,"y":0.83},{"x":46,"y":0.88},{"x":47,"y":0.85},{"x":48,"y":0.9},{"x":49,"y":0.86},{"x":50,"y":0.88},{"x":51,"y":0.84},{"x":52,"y":0.87},{"x":53,"y":0.83},{"x":54,"y":0.86},{"x":55,"y":0.82},{"x":56,"y":0.85},{"x":57,"y":0.81},{"x":58,"y":0.83},{"x":59,"y":0.79},{"x":60,"y":0.82},{"x":61,"y":0.78},{"x":62,"y":0.8},{"x":63,"y":0.76},{"x":64,"y":0.79},{"x":65,"y":0.74},{"x":66,"y":0.77},{"x":67,"y":0.72},{"x":68,"y":0.75},{"x":69,"y":0.7},{"x":70,"y":0.73},{"x":71,"y":0.68},{"x":72,"y":0.71},{"x":73,"y":0.66},{"x":74,"y":0.69},{"x":75,"y":0.63},{"x":76,"y":0.66},{"x":77,"y":0.6},{"x":78,"y":0.58},{"x":38,"y":0.78},{"x":42,"y":0.77},{"x":46,"y":0.8},{"x":50,"y":0.79}],
"a3k":[{"x":24,"lo":0.06,"hi":0.75},{"x":27,"lo":0.05,"hi":0.82},{"x":30,"lo":0.04,"hi":0.86},{"x":35,"lo":0.04,"hi":0.88},{"x":40,"lo":0.03,"hi":0.9},{"x":45,"lo":0.03,"hi":0.92},{"x":50,"lo":0.03,"hi":0.94},{"x":55,"lo":0.03,"hi":0.95},{"x":60,"lo":0.03,"hi":0.96},{"x":65,"lo":0.03,"hi":0.96},{"x":70,"lo":0.03,"hi":0.96},{"x":75,"lo":0.03,"hi":0.94},{"x":80,"lo":0.03,"hi":0.9},{"x":83,"lo":0.03,"hi":0.84},{"x":85,"lo":0.03,"hi":0.76}],
"a3kb":[{"x":24,"lo":0.06,"hi":0.13},{"x":60,"lo":0.06,"hi":0.13},{"x":85,"lo":0.04,"hi":0.11}],
"a3p":[{"x":45,"lo":0.55,"hi":0.85},{"x":50,"lo":0.45,"hi":0.9},{"x":55,"lo":0.4,"hi":0.93},{"x":60,"lo":0.4,"hi":0.95},{"x":70,"lo":0.4,"hi":0.96},{"x":78,"lo":0.4,"hi":0.93},{"x":82,"lo":0.4,"hi":0.87},{"x":85,"lo":0.4,"hi":0.76}],
"a3pm":[{"x":27,"lo":0.16,"hi":0.3},{"x":35,"lo":0.16,"hi":0.34},{"x":45,"lo":0.16,"hi":0.38},{"x":55,"lo":0.16,"hi":0.4},{"x":70,"lo":0.16,"hi":0.4},{"x":80,"lo":0.16,"hi":0.4},{"x":85,"lo":0.16,"hi":0.4}],
"a3pb":[{"x":24,"lo":0.07,"hi":0.15},{"x":40,"lo":0.07,"hi":0.15},{"x":60,"lo":0.07,"hi":0.15},{"x":85,"lo":0.05,"hi":0.13}],
"d3k":[{"x":45,"y":0.91},{"x":50,"y":0.93},{"x":55,"y":0.9},{"x":60,"y":0.94},{"x":65,"y":0.92},{"x":70,"y":0.95},{"x":75,"y":0.91},{"x":80,"y":0.88},
{"x":30,"y":0.84},{"x":34,"y":0.82},{"x":38,"y":0.86},{"x":42,"y":0.83},{"x":46,"y":0.87},{"x":52,"y":0.85},{"x":57,"y":0.82},{"x":62,"y":0.86},{"x":67,"y":0.84},{"x":72,"y":0.87},{"x":77,"y":0.83},{"x":82,"y":0.8},
{"x":26,"y":0.76},{"x":29,"y":0.79},{"x":32,"y":0.74},{"x":36,"y":0.77},{"x":40,"y":0.75},{"x":44,"y":0.79},{"x":49,"y":0.76},{"x":54,"y":0.78},{"x":59,"y":0.74},{"x":64,"y":0.77},{"x":69,"y":0.75},{"x":74,"y":0.78},{"x":79,"y":0.74},{"x":83,"y":0.76},
{"x":25,"y":0.68},{"x":28,"y":0.71},{"x":31,"y":0.66},{"x":34,"y":0.7},{"x":37,"y":0.67},{"x":41,"y":0.69},{"x":45,"y":0.65},{"x":50,"y":0.7},{"x":55,"y":0.67},{"x":60,"y":0.69},{"x":65,"y":0.66},{"x":70,"y":0.7},{"x":75,"y":0.67},{"x":80,"y":0.69},{"x":84,"y":0.66},
{"x":24,"y":0.6},{"x":27,"y":0.58},{"x":30,"y":0.62},{"x":33,"y":0.59},{"x":36,"y":0.61},{"x":39,"y":0.57},{"x":43,"y":0.6},{"x":47,"y":0.62},{"x":52,"y":0.58},{"x":57,"y":0.61},{"x":62,"y":0.59},{"x":67,"y":0.62},{"x":72,"y":0.58},{"x":77,"y":0.6},{"x":82,"y":0.57},
{"x":25,"y":0.52},{"x":28,"y":0.5},{"x":31,"y":0.54},{"x":35,"y":0.51},{"x":38,"y":0.53},{"x":42,"y":0.5},{"x":46,"y":0.54},{"x":51,"y":0.52},{"x":56,"y":0.49},{"x":61,"y":0.53},{"x":66,"y":0.51},{"x":71,"y":0.54},{"x":76,"y":0.5},{"x":81,"y":0.52},{"x":84,"y":0.48},
{"x":24,"y":0.44},{"x":27,"y":0.42},{"x":30,"y":0.46},{"x":34,"y":0.43},{"x":38,"y":0.45},{"x":42,"y":0.41},{"x":46,"y":0.45},{"x":50,"y":0.43},{"x":55,"y":0.46},{"x":60,"y":0.42},{"x":65,"y":0.45},{"x":70,"y":0.43},{"x":75,"y":0.46},{"x":80,"y":0.42},{"x":84,"y":0.4},
{"x":25,"y":0.36},{"x":29,"y":0.34},{"x":33,"y":0.37},{"x":37,"y":0.35},{"x":41,"y":0.38},{"x":45,"y":0.34},{"x":50,"y":0.37},{"x":55,"y":0.35},{"x":60,"y":0.38},{"x":65,"y":0.34},{"x":70,"y":0.37},{"x":75,"y":0.35},{"x":80,"y":0.38},{"x":84,"y":0.34},
{"x":24,"y":0.28},{"x":28,"y":0.26},{"x":32,"y":0.29},{"x":36,"y":0.27},{"x":40,"y":0.3},{"x":44,"y":0.26},{"x":48,"y":0.29},{"x":53,"y":0.27},{"x":58,"y":0.3},{"x":63,"y":0.26},{"x":68,"y":0.29},{"x":73,"y":0.27},{"x":78,"y":0.3},{"x":83,"y":0.26},
{"x":25,"y":0.2},{"x":29,"y":0.22},{"x":33,"y":0.19},{"x":37,"y":0.21},{"x":41,"y":0.18},{"x":45,"y":0.22},{"x":50,"y":0.2},{"x":55,"y":0.18},{"x":60,"y":0.21},{"x":65,"y":0.19},{"x":70,"y":0.22},{"x":75,"y":0.2},{"x":80,"y":0.18},{"x":84,"y":0.21},
{"x":24,"y":0.12},{"x":27,"y":0.1},{"x":30,"y":0.13},{"x":33,"y":0.11},{"x":36,"y":0.09},{"x":39,"y":0.12},{"x":42,"y":0.1},{"x":45,"y":0.13},{"x":48,"y":0.11},{"x":51,"y":0.09},{"x":54,"y":0.12},{"x":57,"y":0.1},{"x":60,"y":0.13},{"x":64,"y":0.11},{"x":68,"y":0.09},{"x":72,"y":0.12},{"x":76,"y":0.1},{"x":80,"y":0.13},{"x":84,"y":0.11},
{"x":25,"y":0.06},{"x":29,"y":0.07},{"x":33,"y":0.05},{"x":37,"y":0.07},{"x":41,"y":0.06},{"x":46,"y":0.05},{"x":51,"y":0.07},{"x":56,"y":0.06},{"x":61,"y":0.05},{"x":66,"y":0.07},{"x":71,"y":0.06},{"x":76,"y":0.04},{"x":81,"y":0.06},{"x":84,"y":0.02}],
"d3p":[{"x":27,"y":0.3},{"x":30,"y":0.2},{"x":32,"y":0.38},{"x":35,"y":0.25},{"x":38,"y":0.33},{"x":41,"y":0.45},{"x":44,"y":0.3},{"x":47,"y":0.5},{"x":48,"y":0.38},{"x":50,"y":0.6},{"x":52,"y":0.45},{"x":53,"y":0.8},{"x":55,"y":0.7},{"x":56,"y":0.55},{"x":58,"y":0.88},{"x":59,"y":0.4},{"x":60,"y":0.75},{"x":61,"y":0.62},{"x":62,"y":0.9},{"x":63,"y":0.5},{"x":64,"y":0.8},{"x":65,"y":0.68},{"x":66,"y":0.93},{"x":67,"y":0.45},{"x":68,"y":0.58},{"x":69,"y":0.85},{"x":70,"y":0.72},{"x":71,"y":0.38},{"x":72,"y":0.9},{"x":73,"y":0.62},{"x":74,"y":0.8},{"x":75,"y":0.5},{"x":76,"y":0.7},{"x":77,"y":0.88},{"x":78,"y":0.42},{"x":79,"y":0.6},{"x":80,"y":0.78},{"x":81,"y":0.52},{"x":82,"y":0.85},{"x":83,"y":0.65},{"x":84,"y":0.45},{"x":84.5,"y":0.72},{"x":57,"y":0.32},{"x":62,"y":0.25},{"x":66,"y":0.3},{"x":70,"y":0.26},{"x":74,"y":0.32},{"x":78,"y":0.24},{"x":82,"y":0.3},{"x":44,"y":0.6},{"x":40,"y":0.55},{"x":36,"y":0.5},{"x":46,"y":0.72},{"x":50,"y":0.85},{"x":54,"y":0.92},{"x":48,"y":0.2},{"x":52,"y":0.24},{"x":56,"y":0.18},{"x":60,"y":0.28},{"x":64,"y":0.2},{"x":68,"y":0.18},{"x":72,"y":0.24},{"x":76,"y":0.18},{"x":80,"y":0.22},{"x":84,"y":0.25},
{"x":24,"y":0.09},{"x":26,"y":0.13},{"x":28,"y":0.08},{"x":30,"y":0.11},{"x":32,"y":0.07},{"x":34,"y":0.12},{"x":36,"y":0.1},{"x":38,"y":0.14},{"x":40,"y":0.08},{"x":42,"y":0.12},{"x":44,"y":0.09},{"x":46,"y":0.11},{"x":48,"y":0.07},{"x":50,"y":0.13},{"x":52,"y":0.1},{"x":54,"y":0.08},{"x":56,"y":0.12},{"x":58,"y":0.09},{"x":60,"y":0.11},{"x":62,"y":0.07},{"x":65,"y":0.1},{"x":68,"y":0.13},{"x":71,"y":0.08},{"x":74,"y":0.11},{"x":77,"y":0.07},{"x":80,"y":0.1},{"x":83,"y":0.08},{"x":25,"y":0.15},{"x":35,"y":0.16},{"x":45,"y":0.15},{"x":55,"y":0.16},{"x":65,"y":0.15},{"x":75,"y":0.14}],
"d3g":[{"x":35,"y":0.62},{"x":42,"y":0.4},{"x":48,"y":0.35},{"x":55,"y":0.6},{"x":62,"y":0.42},{"x":68,"y":0.25},{"x":80,"y":0.02},{"x":74,"y":0.55},{"x":58,"y":0.72}],
"h1":[{"v":-0.02,"f":0},{"v":-0.005,"f":10},{"v":0.005,"f":25},{"v":0.014,"f":40},{"v":0.025,"f":100},{"v":0.033,"f":178},{"v":0.045,"f":350},{"v":0.052,"f":494},{"v":0.06,"f":700},{"v":0.067,"f":900},{"v":0.071,"f":1043},{"v":0.076,"f":1250},{"v":0.08,"f":1386},{"v":0.085,"f":1300},{"v":0.09,"f":1150},{"v":0.095,"f":1000},{"v":0.1,"f":906},{"v":0.105,"f":700},{"v":0.109,"f":545},{"v":0.114,"f":430},{"v":0.119,"f":357},{"v":0.128,"f":310},{"v":0.138,"f":288},{"v":0.157,"f":262},{"v":0.176,"f":247},{"v":0.195,"f":235},{"v":0.215,"f":226},{"v":0.234,"f":212},{"v":0.253,"f":201},{"v":0.272,"f":194},{"v":0.292,"f":188},{"v":0.31,"f":178},{"v":0.33,"f":169},{"v":0.35,"f":162},{"v":0.368,"f":155},{"v":0.387,"f":145},{"v":0.406,"f":133},{"v":0.425,"f":128},{"v":0.445,"f":124},{"v":0.464,"f":116},{"v":0.483,"f":110},{"v":0.5,"f":103},{"v":0.52,"f":96},{"v":0.54,"f":92},{"v":0.56,"f":87},{"v":0.58,"f":82},{"v":0.6,"f":78},{"v":0.62,"f":70},{"v":0.637,"f":64},{"v":0.655,"f":52},{"v":0.675,"f":41},{"v":0.695,"f":36},{"v":0.713,"f":32},{"v":0.74,"f":27},{"v":0.77,"f":23},{"v":0.8,"f":18},{"v":0.83,"f":12},{"v":0.85,"f":8},{"v":0.87,"f":3},{"v":0.9,"f":0}],
"h2":[{"v":-0.02,"f":0},{"v":-0.015,"f":18},{"v":0.004,"f":64},{"v":0.02,"f":85},{"v":0.042,"f":110},{"v":0.06,"f":140},{"v":0.08,"f":178},{"v":0.09,"f":215},{"v":0.1,"f":270},{"v":0.11,"f":340},{"v":0.119,"f":453},{"v":0.125,"f":600},{"v":0.132,"f":820},{"v":0.14,"f":1000},{"v":0.148,"f":1180},{"v":0.155,"f":1260},{"v":0.161,"f":1300},{"v":0.168,"f":1250},{"v":0.177,"f":1139},{"v":0.186,"f":1030},{"v":0.196,"f":910},{"v":0.205,"f":780},{"v":0.215,"f":635},{"v":0.225,"f":510},{"v":0.234,"f":408},{"v":0.243,"f":330},{"v":0.253,"f":270},{"v":0.265,"f":245},{"v":0.282,"f":233},{"v":0.3,"f":236},{"v":0.31,"f":233},{"v":0.33,"f":228},{"v":0.349,"f":224},{"v":0.37,"f":230},{"v":0.387,"f":233},{"v":0.405,"f":240},{"v":0.425,"f":247},{"v":0.445,"f":255},{"v":0.464,"f":261},{"v":0.48,"f":250},{"v":0.502,"f":247},{"v":0.52,"f":240},{"v":0.54,"f":233},{"v":0.56,"f":228},{"v":0.579,"f":224},{"v":0.6,"f":213},{"v":0.617,"f":201},{"v":0.635,"f":180},{"v":0.655,"f":155},{"v":0.665,"f":130},{"v":0.675,"f":110},{"v":0.69,"f":92},{"v":0.704,"f":78},{"v":0.72,"f":70},{"v":0.733,"f":64},{"v":0.75,"f":52},{"v":0.77,"f":41},{"v":0.785,"f":25},{"v":0.8,"f":5},{"v":0.82,"f":0}],
"h3":[{"v":-0.02,"f":0},{"v":-0.01,"f":12},{"v":0.02,"f":35},{"v":0.035,"f":60},{"v":0.048,"f":105},{"v":0.06,"f":170},{"v":0.07,"f":230},{"v":0.077,"f":280},{"v":0.087,"f":400},{"v":0.096,"f":513},{"v":0.106,"f":677},{"v":0.115,"f":600},{"v":0.125,"f":513},{"v":0.135,"f":390},{"v":0.145,"f":280},{"v":0.155,"f":210},{"v":0.164,"f":163},{"v":0.183,"f":117},{"v":0.2,"f":102},{"v":0.212,"f":93},{"v":0.241,"f":82},{"v":0.27,"f":75},{"v":0.299,"f":70},{"v":0.33,"f":67},{"v":0.357,"f":65},{"v":0.385,"f":68},{"v":0.414,"f":70},{"v":0.445,"f":72},{"v":0.472,"f":70},{"v":0.5,"f":73},{"v":0.53,"f":75},{"v":0.56,"f":74},{"v":0.588,"f":75},{"v":0.615,"f":72},{"v":0.646,"f":70},{"v":0.665,"f":73},{"v":0.684,"f":75},{"v":0.7,"f":82},{"v":0.723,"f":93},{"v":0.74,"f":100},{"v":0.761,"f":105},{"v":0.775,"f":110},{"v":0.79,"f":117},{"v":0.809,"f":128},{"v":0.82,"f":110},{"v":0.829,"f":93},{"v":0.845,"f":82},{"v":0.858,"f":75},{"v":0.875,"f":65},{"v":0.896,"f":58},{"v":0.915,"f":48},{"v":0.935,"f":35},{"v":0.945,"f":22},{"v":0.954,"f":12},{"v":0.965,"f":3},{"v":0.97,"f":0}]
},
"spacing":8,
"resolve":{"scale":{"stroke":"independent","shape":"independent","fill":"independent"},"legend":{"stroke":"independent","shape":"independent","fill":"independent"}},
"vconcat":[
{"hconcat":[
 {"width":260,"height":230,"title":"Xianghe",
  "resolve":{"axis":{"x":"independent","y":"independent"}},
  "layer":[
   {"data":{"name":"a1g"},"mark":{"type":"area","clip":true},"encoding":{
     "x":{"field":"x","type":"quantitative","scale":{"domain":[10,85],"nice":false,"zero":false},"axis":{"orient":"bottom","values":[15,20,25,30,35,40,45,50,55,60,65,70,75,80],"labelExpr":"datum.value % 20 === 0 ? datum.label : ''","tickSize":{"condition":{"test":"datum.value % 20 === 0","value":-5},"value":-2.5},"labelPadding":10,"title":"Solar Zenith Angle","titlePadding":2}},
     "y":{"field":"lo","type":"quantitative","scale":{"domain":[-0.02,1.3],"nice":false,"zero":false},"axis":{"orient":"left","values":[0,0.05,0.1,0.15,0.2,0.25,0.3,0.35,0.4,0.45,0.5,0.55,0.6,0.65,0.7,0.75,0.8,0.85,0.9,0.95,1,1.05,1.1,1.15,1.2,1.25],"labelExpr":"round(datum.value*100) % 20 === 0 ? format(datum.value, '.1f') : ''","tickSize":{"condition":{"test":"round(datum.value*100) % 20 === 0","value":-5},"value":-2.5},"labelPadding":7,"title":"Normalized Colour index (zenith)","titlePadding":8}},
     "y2":{"field":"hi"},
     "fill":{"datum":"0.1<AOD<0.225","type":"nominal","scale":{"domain":["AOD<0.1","0.1<AOD<0.225","0.225<AOD<0.75","0.75<AOD<1.8","1.8<AOD"],"range":["#f5a0a0","#228b22","#1e90ff","#ff8c00","#8a2be2"]},
       "legend":{"orient":"none","legendX":272,"legendY":8,"title":"AOD meas.:","titleAnchor":"end","symbolSize":0,"symbolOpacity":0,"labelOffset":0,"padding":5,
         "encode":{"labels":{"update":{"x":{"value":78},"align":{"value":"right"},"fill":{"signal":"datum.value == 'AOD<0.1' ? '#f5a0a0' : datum.value == '0.1<AOD<0.225' ? '#228b22' : datum.value == '0.225<AOD<0.75' ? '#1e90ff' : datum.value == '0.75<AOD<1.8' ? '#ff8c00' : '#8a2be2'"}}}}}}}},
   {"data":{"name":"a1b"},"mark":{"type":"area","clip":true},"encoding":{"x":{"field":"x","type":"quantitative","axis":null},"y":{"field":"lo","type":"quantitative","axis":null},"y2":{"field":"hi"},"fill":{"datum":"0.225<AOD<0.75","type":"nominal"}}},
   {"data":{"name":"a1o"},"mark":{"type":"area","clip":true},"encoding":{"x":{"field":"x","type":"quantitative","axis":null},"y":{"field":"lo","type":"quantitative","axis":null},"y2":{"field":"hi"},"fill":{"datum":"0.75<AOD<1.8","type":"nominal"}}},
   {"data":{"name":"a1k"},"mark":{"type":"area","color":"black","opacity":0.8,"clip":true},"encoding":{"x":{"field":"x","type":"quantitative","axis":null},"y":{"field":"lo","type":"quantitative","axis":null},"y2":{"field":"hi"}}},
   {"data":{"name":"a1p"},"mark":{"type":"area","clip":true},"encoding":{"x":{"field":"x","type":"quantitative","axis":null},"y":{"field":"lo","type":"quantitative","axis":null},"y2":{"field":"hi"},"fill":{"datum":"AOD<0.1","type":"nominal"}}},
   {"data":{"name":"d1k"},"mark":{"type":"square","color":"black","size":4,"opacity":1,"clip":true},"encoding":{"x":{"field":"x","type":"quantitative","axis":null},"y":{"field":"y","type":"quantitative","axis":null}}},
   {"data":{"name":"d1g"},"mark":{"type":"circle","size":11,"opacity":1,"clip":true},"encoding":{"x":{"field":"x","type":"quantitative","axis":null},"y":{"field":"y","type":"quantitative","axis":null},"fill":{"datum":"0.1<AOD<0.225","type":"nominal"}}},
   {"data":{"name":"d1b"},"mark":{"type":"circle","size":11,"opacity":1,"clip":true},"encoding":{"x":{"field":"x","type":"quantitative","axis":null},"y":{"field":"y","type":"quantitative","axis":null},"fill":{"datum":"0.225<AOD<0.75","type":"nominal"}}},
   {"data":{"name":"d1o"},"mark":{"type":"circle","size":11,"opacity":1,"clip":true},"encoding":{"x":{"field":"x","type":"quantitative","axis":null},"y":{"field":"y","type":"quantitative","axis":null},"fill":{"datum":"0.75<AOD<1.8","type":"nominal"}}},
   {"data":{"name":"d1u"},"mark":{"type":"circle","size":11,"opacity":1,"clip":true},"encoding":{"x":{"field":"x","type":"quantitative","axis":null},"y":{"field":"y","type":"quantitative","axis":null},"fill":{"datum":"1.8<AOD","type":"nominal"}}},
   {"data":{"name":"d1p"},"mark":{"type":"circle","size":11,"opacity":1,"clip":true},"encoding":{"x":{"field":"x","type":"quantitative","axis":null},"y":{"field":"y","type":"quantitative","axis":null},"fill":{"datum":"AOD<0.1","type":"nominal"}}},
   {"data":{"name":"s1"},"mark":{"type":"line","strokeWidth":1,"clip":true},"encoding":{
     "x":{"field":"x","type":"quantitative","axis":{"orient":"top","values":[15,20,25,30,35,40,45,50,55,60,65,70,75,80],"labels":false,"tickSize":{"condition":{"test":"datum.value % 20 === 0","value":-5},"value":-2.5},"title":null}},
     "y":{"field":"y","type":"quantitative","axis":null},
     "stroke":{"field":"a","type":"nominal","scale":{"domain":[0.05,0.15,0.3,1.2,2.4],"range":["#ff0000","#00ff00","#0000ff","#ffff00","#ff00ff"]},
       "legend":{"orient":"none","legendX":6,"legendY":8,"title":"Simulations:","labelExpr":"'AER=' + datum.label","symbolSize":0,"symbolOpacity":0,"labelOffset":0,"padding":5,
         "encode":{"labels":{"update":{"fill":{"signal":"datum.value == 0.05 ? '#ff0000' : datum.value == 0.15 ? '#00ff00' : datum.value == 0.3 ? '#0000ff' : datum.value == 1.2 ? '#ffff00' : '#ff00ff'"}}}}}},
     "detail":{"field":"c","type":"nominal"}}},
   {"data":{"name":"s1"},"transform":[{"filter":"datum.x > 10 && datum.x < 85"}],"mark":{"type":"point","filled":false,"size":26,"strokeWidth":1,"opacity":1,"clip":true},"encoding":{
     "x":{"field":"x","type":"quantitative","axis":null},
     "y":{"field":"y","type":"quantitative","axis":{"orient":"right","values":[0,0.05,0.1,0.15,0.2,0.25,0.3,0.35,0.4,0.45,0.5,0.55,0.6,0.65,0.7,0.75,0.8,0.85,0.9,0.95,1,1.05,1.1,1.15,1.2,1.25],"labels":false,"tickSize":{"condition":{"test":"round(datum.value*100) % 20 === 0","value":-5},"value":-2.5},"title":null}},
     "stroke":{"field":"a","type":"nominal"},
     "shape":{"field":"c","type":"nominal","scale":{"domain":[0,0.5,10],"range":["diamond","M-1,0L1,0M0,-1L0,1M-0.7,-0.7L0.7,0.7M-0.7,0.7L0.7,-0.7","square"]},
       "legend":{"orient":"none","legendX":151,"legendY":8,"title":"Simulations:  ──────","labelExpr":"'COT=' + datum.label","labelAlign":"right","symbolOffset":70,"labelOffset":-25,"symbolSize":26,"symbolStrokeColor":"black","symbolFillColor":"transparent","symbolStrokeWidth":1,"padding":5}}}}
  ]},
 {"width":102,"height":230,"data":{"name":"h1"},"mark":{"type":"line","color":"black","strokeWidth":1,"clip":true},"encoding":{
   "x":{"field":"f","type":"quantitative","scale":{"domain":[0,1400],"nice":false,"zero":false},"axis":{"orient":"bottom","values":[0,700,1400],"format":"d","labelFlush":true,"ticks":false,"labelPadding":5,"title":"Frequency","titlePadding":2}},
   "y":{"field":"v","type":"quantitative","scale":{"domain":[-0.02,1.3],"nice":false,"zero":false},"axis":{"orient":"right","values":[0,0.05,0.1,0.15,0.2,0.25,0.3,0.35,0.4,0.45,0.5,0.55,0.6,0.65,0.7,0.75,0.8,0.85,0.9,0.95,1,1.05,1.1,1.15,1.2,1.25],"labelExpr":"round(datum.value*100) % 20 === 0 ? format(datum.value, '.1f') : ''","tickSize":{"condition":{"test":"round(datum.value*100) % 20 === 0","value":-7},"value":-3},"labelPadding":9,"title":null}},
   "order":{"field":"v","type":"quantitative"}}}
 ],"spacing":0,"bounds":"flush","resolve":{"scale":{"stroke":"independent","shape":"independent","fill":"independent"},"legend":{"stroke":"independent","shape":"independent","fill":"independent"}}},
{"hconcat":[
 {"width":260,"height":230,"title":"Brussels",
  "resolve":{"axis":{"x":"independent","y":"independent"}},
  "layer":[
   {"data":{"name":"a2k"},"mark":{"type":"area","color":"black","opacity":0.6,"clip":true},"encoding":{
     "x":{"field":"x","type":"quantitative","scale":{"domain":[10,85],"nice":false,"zero":false},"axis":{"orient":"bottom","values":[15,20,25,30,35,40,45,50,55,60,65,70,75,80],"labelExpr":"datum.value % 20 === 0 ? datum.label : ''","tickSize":{"condition":{"test":"datum.value % 20 === 0","value":-5},"value":-2.5},"labelPadding":10,"title":"Solar Zenith Angle","titlePadding":2}},
     "y":{"field":"lo","type":"quantitative","scale":{"domain":[-0.02,1.3],"nice":false,"zero":false},"axis":{"orient":"left","values":[0,0.05,0.1,0.15,0.2,0.25,0.3,0.35,0.4,0.45,0.5,0.55,0.6,0.65,0.7,0.75,0.8,0.85,0.9,0.95,1,1.05,1.1,1.15,1.2,1.25],"labelExpr":"round(datum.value*100) % 20 === 0 ? format(datum.value, '.1f') : ''","tickSize":{"condition":{"test":"round(datum.value*100) % 20 === 0","value":-5},"value":-2.5},"labelPadding":7,"title":"Normalized Colour index (zenith)","titlePadding":8}},
     "y2":{"field":"hi"}}},
   {"data":{"name":"a2kb"},"mark":{"type":"area","color":"black","opacity":0.9,"clip":true},"encoding":{"x":{"field":"x","type":"quantitative","axis":null},"y":{"field":"lo","type":"quantitative","axis":null},"y2":{"field":"hi"}}},
   {"data":{"name":"a2g"},"mark":{"type":"area","clip":true},"encoding":{"x":{"field":"x","type":"quantitative","axis":null},"y":{"field":"lo","type":"quantitative","axis":null},"y2":{"field":"hi"},
     "fill":{"datum":"0.1<AOD<0.225","type":"nominal","scale":{"domain":["AOD<0.1","0.1<AOD<0.225","0.225<AOD<0.75","0.75<AOD<1.8"],"range":["#f5a0a0","#228b22","#1e90ff","#ff8c00"]},
       "legend":{"orient":"none","legendX":272,"legendY":8,"title":"AOD meas.:","titleAnchor":"end","symbolSize":0,"symbolOpacity":0,"labelOffset":0,"padding":5,
         "encode":{"labels":{"update":{"x":{"value":78},"align":{"value":"right"},"fill":{"signal":"datum.value == 'AOD<0.1' ? '#f5a0a0' : datum.value == '0.1<AOD<0.225' ? '#228b22' : datum.value == '0.225<AOD<0.75' ? '#1e90ff' : '#ff8c00'"}}}}}}}},
   {"data":{"name":"a2b"},"mark":{"type":"area","clip":true},"encoding":{"x":{"field":"x","type":"quantitative","axis":null},"y":{"field":"lo","type":"quantitative","axis":null},"y2":{"field":"hi"},"fill":{"datum":"0.225<AOD<0.75","type":"nominal"}}},
   {"data":{"name":"d2k"},"mark":{"type":"square","color":"black","size":4,"opacity":1,"clip":true},"encoding":{"x":{"field":"x","type":"quantitative","axis":null},"y":{"field":"y","type":"quantitative","axis":null}}},
   {"data":{"name":"d2g"},"mark":{"type":"circle","size":11,"opacity":1,"clip":true},"encoding":{"x":{"field":"x","type":"quantitative","axis":null},"y":{"field":"y","type":"quantitative","axis":null},"fill":{"datum":"0.1<AOD<0.225","type":"nominal"}}},
   {"data":{"name":"d2b"},"mark":{"type":"circle","size":11,"opacity":1,"clip":true},"encoding":{"x":{"field":"x","type":"quantitative","axis":null},"y":{"field":"y","type":"quantitative","axis":null},"fill":{"datum":"0.225<AOD<0.75","type":"nominal"}}},
   {"data":{"name":"d2o"},"mark":{"type":"circle","size":11,"opacity":1,"clip":true},"encoding":{"x":{"field":"x","type":"quantitative","axis":null},"y":{"field":"y","type":"quantitative","axis":null},"fill":{"datum":"0.75<AOD<1.8","type":"nominal"}}},
   {"data":{"name":"d2p"},"mark":{"type":"circle","size":11,"opacity":1,"clip":true},"encoding":{"x":{"field":"x","type":"quantitative","axis":null},"y":{"field":"y","type":"quantitative","axis":null},"fill":{"datum":"AOD<0.1","type":"nominal"}}},
   {"data":{"name":"s2"},"mark":{"type":"line","strokeWidth":1,"clip":true},"encoding":{
     "x":{"field":"x","type":"quantitative","axis":{"orient":"top","values":[15,20,25,30,35,40,45,50,55,60,65,70,75,80],"labels":false,"tickSize":{"condition":{"test":"datum.value % 20 === 0","value":-5},"value":-2.5},"title":null}},
     "y":{"field":"y","type":"quantitative","axis":null},
     "stroke":{"field":"a","type":"nominal","scale":{"domain":[0.05,0.15,0.3,1.2],"range":["#ff0000","#00ff00","#0000ff","#ffff00"]},
       "legend":{"orient":"none","legendX":6,"legendY":8,"title":"Simulations:","labelExpr":"'AER=' + datum.label","symbolSize":0,"symbolOpacity":0,"labelOffset":0,"padding":5,
         "encode":{"labels":{"update":{"fill":{"signal":"datum.value == 0.05 ? '#ff0000' : datum.value == 0.15 ? '#00ff00' : datum.value == 0.3 ? '#0000ff' : '#ffff00'"}}}}}},
     "detail":{"field":"c","type":"nominal"}}},
   {"data":{"name":"s2"},"transform":[{"filter":"datum.x > 10 && datum.x < 85"}],"mark":{"type":"point","filled":false,"size":26,"strokeWidth":1,"opacity":1,"clip":true},"encoding":{
     "x":{"field":"x","type":"quantitative","axis":null},
     "y":{"field":"y","type":"quantitative","axis":{"orient":"right","values":[0,0.05,0.1,0.15,0.2,0.25,0.3,0.35,0.4,0.45,0.5,0.55,0.6,0.65,0.7,0.75,0.8,0.85,0.9,0.95,1,1.05,1.1,1.15,1.2,1.25],"labels":false,"tickSize":{"condition":{"test":"round(datum.value*100) % 20 === 0","value":-5},"value":-2.5},"title":null}},
     "stroke":{"field":"a","type":"nominal"},
     "shape":{"field":"c","type":"nominal","scale":{"domain":[0,0.5,10],"range":["diamond","M-1,0L1,0M0,-1L0,1M-0.7,-0.7L0.7,0.7M-0.7,0.7L0.7,-0.7","square"]},
       "legend":{"orient":"none","legendX":151,"legendY":8,"title":"Simulations:  ──────","labelExpr":"'COT=' + datum.label","labelAlign":"right","symbolOffset":70,"labelOffset":-25,"symbolSize":26,"symbolStrokeColor":"black","symbolFillColor":"transparent","symbolStrokeWidth":1,"padding":5}}}}
  ]},
 {"width":102,"height":230,"data":{"name":"h2"},"mark":{"type":"line","color":"black","strokeWidth":1,"clip":true},"encoding":{
   "x":{"field":"f","type":"quantitative","scale":{"domain":[0,1400],"nice":false,"zero":false},"axis":{"orient":"bottom","values":[0,700,1400],"format":"d","labelFlush":true,"ticks":false,"labelPadding":5,"title":"Frequency","titlePadding":2}},
   "y":{"field":"v","type":"quantitative","scale":{"domain":[-0.02,1.3],"nice":false,"zero":false},"axis":{"orient":"right","values":[0,0.05,0.1,0.15,0.2,0.25,0.3,0.35,0.4,0.45,0.5,0.55,0.6,0.65,0.7,0.75,0.8,0.85,0.9,0.95,1,1.05,1.1,1.15,1.2,1.25],"labelExpr":"round(datum.value*100) % 20 === 0 ? format(datum.value, '.1f') : ''","tickSize":{"condition":{"test":"round(datum.value*100) % 20 === 0","value":-7},"value":-3},"labelPadding":9,"title":null}},
   "order":{"field":"v","type":"quantitative"}}}
 ],"spacing":0,"bounds":"flush","resolve":{"scale":{"stroke":"independent","shape":"independent","fill":"independent"},"legend":{"stroke":"independent","shape":"independent","fill":"independent"}}},
{"hconcat":[
 {"width":260,"height":230,"title":"Jungfraujoch",
  "resolve":{"axis":{"x":"independent","y":"independent"}},
  "layer":[
   {"data":{"name":"a3k"},"mark":{"type":"area","color":"black","opacity":0.33,"clip":true},"encoding":{
     "x":{"field":"x","type":"quantitative","scale":{"domain":[10,85],"nice":false,"zero":false},"axis":{"orient":"bottom","values":[15,20,25,30,35,40,45,50,55,60,65,70,75,80],"labelExpr":"datum.value % 20 === 0 ? datum.label : ''","tickSize":{"condition":{"test":"datum.value % 20 === 0","value":-5},"value":-2.5},"labelPadding":10,"title":"Solar Zenith Angle","titlePadding":2}},
     "y":{"field":"lo","type":"quantitative","scale":{"domain":[-0.02,1.3],"nice":false,"zero":false},"axis":{"orient":"left","values":[0,0.05,0.1,0.15,0.2,0.25,0.3,0.35,0.4,0.45,0.5,0.55,0.6,0.65,0.7,0.75,0.8,0.85,0.9,0.95,1,1.05,1.1,1.15,1.2,1.25],"labelExpr":"round(datum.value*100) % 20 === 0 ? format(datum.value, '.1f') : ''","tickSize":{"condition":{"test":"round(datum.value*100) % 20 === 0","value":-5},"value":-2.5},"labelPadding":7,"title":"Normalized Colour index (zenith)","titlePadding":8}},
     "y2":{"field":"hi"}}},
   {"data":{"name":"a3p"},"mark":{"type":"area","opacity":0.65,"clip":true},"encoding":{"x":{"field":"x","type":"quantitative","axis":null},"y":{"field":"lo","type":"quantitative","axis":null},"y2":{"field":"hi"},
     "fill":{"datum":"AOD<0.1","type":"nominal","scale":{"domain":["AOD<0.1","0.1<AOD<0.225","0.225<AOD<0.75"],"range":["#f5a0a0","#228b22","#1e90ff"]},
       "legend":{"orient":"none","legendX":272,"legendY":8,"title":"AOD meas.:","titleAnchor":"end","symbolSize":0,"symbolOpacity":0,"labelOffset":0,"padding":5,
         "encode":{"labels":{"update":{"x":{"value":78},"align":{"value":"right"},"fill":{"signal":"datum.value == 'AOD<0.1' ? '#f5a0a0' : datum.value == '0.1<AOD<0.225' ? '#228b22' : '#1e90ff'"}}}}}}}},
   {"data":{"name":"a3pm"},"mark":{"type":"area","opacity":0.5,"clip":true},"encoding":{"x":{"field":"x","type":"quantitative","axis":null},"y":{"field":"lo","type":"quantitative","axis":null},"y2":{"field":"hi"},"fill":{"datum":"AOD<0.1","type":"nominal"}}},
   {"data":{"name":"a3pb"},"mark":{"type":"area","opacity":0.7,"clip":true},"encoding":{"x":{"field":"x","type":"quantitative","axis":null},"y":{"field":"lo","type":"quantitative","axis":null},"y2":{"field":"hi"},"fill":{"datum":"AOD<0.1","type":"nominal"}}},
   {"data":{"name":"a3kb"},"mark":{"type":"area","color":"black","opacity":0.45,"clip":true},"encoding":{"x":{"field":"x","type":"quantitative","axis":null},"y":{"field":"lo","type":"quantitative","axis":null},"y2":{"field":"hi"}}},
   {"data":{"name":"d3k"},"mark":{"type":"square","color":"black","size":5,"opacity":1,"clip":true},"encoding":{"x":{"field":"x","type":"quantitative","axis":null},"y":{"field":"y","type":"quantitative","axis":null}}},
   {"data":{"name":"d3p"},"mark":{"type":"circle","size":13,"opacity":1,"clip":true},"encoding":{"x":{"field":"x","type":"quantitative","axis":null},"y":{"field":"y","type":"quantitative","axis":null},"fill":{"datum":"AOD<0.1","type":"nominal"}}},
   {"data":{"name":"d3g"},"mark":{"type":"circle","size":11,"opacity":1,"clip":true},"encoding":{"x":{"field":"x","type":"quantitative","axis":null},"y":{"field":"y","type":"quantitative","axis":null},"fill":{"datum":"0.1<AOD<0.225","type":"nominal"}}},
   {"data":{"name":"s3"},"mark":{"type":"line","strokeWidth":1,"clip":true},"encoding":{
     "x":{"field":"x","type":"quantitative","axis":{"orient":"top","values":[15,20,25,30,35,40,45,50,55,60,65,70,75,80],"labels":false,"tickSize":{"condition":{"test":"datum.value % 20 === 0","value":-5},"value":-2.5},"title":null}},
     "y":{"field":"y","type":"quantitative","axis":null},
     "stroke":{"field":"a","type":"nominal","scale":{"domain":[0.05,0.15,0.3],"range":["#ff0000","#00ff00","#0000ff"]},
       "legend":{"orient":"none","legendX":6,"legendY":8,"title":"Simulations:","labelExpr":"'AER=' + datum.label","symbolSize":0,"symbolOpacity":0,"labelOffset":0,"padding":5,
         "encode":{"labels":{"update":{"fill":{"signal":"datum.value == 0.05 ? '#ff0000' : datum.value == 0.15 ? '#00ff00' : '#0000ff'"}}}}}},
     "detail":{"field":"c","type":"nominal"}}},
   {"data":{"name":"s3"},"transform":[{"filter":"datum.x > 10 && datum.x < 85"}],"mark":{"type":"point","filled":false,"size":26,"strokeWidth":1,"opacity":1,"clip":true},"encoding":{
     "x":{"field":"x","type":"quantitative","axis":null},
     "y":{"field":"y","type":"quantitative","axis":{"orient":"right","values":[0,0.05,0.1,0.15,0.2,0.25,0.3,0.35,0.4,0.45,0.5,0.55,0.6,0.65,0.7,0.75,0.8,0.85,0.9,0.95,1,1.05,1.1,1.15,1.2,1.25],"labels":false,"tickSize":{"condition":{"test":"round(datum.value*100) % 20 === 0","value":-5},"value":-2.5},"title":null}},
     "stroke":{"field":"a","type":"nominal"},
     "shape":{"field":"c","type":"nominal","scale":{"domain":[0,0.5,10],"range":["diamond","M-1,0L1,0M0,-1L0,1M-0.7,-0.7L0.7,0.7M-0.7,0.7L0.7,-0.7","square"]},
       "legend":{"orient":"none","legendX":151,"legendY":8,"title":"Simulations:  ──────","labelExpr":"'COT=' + datum.label","labelAlign":"right","symbolOffset":70,"labelOffset":-25,"symbolSize":26,"symbolStrokeColor":"black","symbolFillColor":"transparent","symbolStrokeWidth":1,"padding":5}}}}
  ]},
 {"width":102,"height":230,"data":{"name":"h3"},"mark":{"type":"line","color":"black","strokeWidth":1,"clip":true},"encoding":{
   "x":{"field":"f","type":"quantitative","scale":{"domain":[0,700],"nice":false,"zero":false},"axis":{"orient":"bottom","values":[0,350,700],"format":"d","labelFlush":true,"ticks":false,"labelPadding":5,"title":"Frequency","titlePadding":2}},
   "y":{"field":"v","type":"quantitative","scale":{"domain":[-0.02,1.3],"nice":false,"zero":false},"axis":{"orient":"right","values":[0,0.05,0.1,0.15,0.2,0.25,0.3,0.35,0.4,0.45,0.5,0.55,0.6,0.65,0.7,0.75,0.8,0.85,0.9,0.95,1,1.05,1.1,1.15,1.2,1.25],"labelExpr":"round(datum.value*100) % 20 === 0 ? format(datum.value, '.1f') : ''","tickSize":{"condition":{"test":"round(datum.value*100) % 20 === 0","value":-7},"value":-3},"labelPadding":9,"title":null}},
   "order":{"field":"v","type":"quantitative"}}}
 ],"spacing":0,"bounds":"flush","resolve":{"scale":{"stroke":"independent","shape":"independent","fill":"independent"},"legend":{"stroke":"independent","shape":"independent","fill":"independent"}}}
]
}
